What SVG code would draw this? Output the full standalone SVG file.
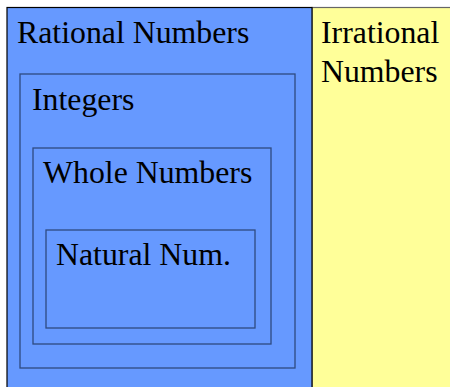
<svg xmlns="http://www.w3.org/2000/svg" width="450" height="387" viewBox="0 0 450 387">
<style>
text{font-family:'Liberation Serif',serif;font-size:31.8px;fill:#000}
.inner{fill:#6699FF;stroke:#2F4A80;stroke-width:1.3}
</style>
<rect x="0" y="0" width="450" height="387" fill="#fff"/>
<g id="irrational">
<rect x="312" y="7.5" width="139" height="381" fill="#FFFF99" stroke="#666" stroke-width="1.2"/>
<text x="321" y="43">Irrational</text>
<text x="321" y="82">Numbers</text>
</g>
<g id="rational">
<rect x="7" y="7.5" width="305" height="381" fill="#6699FF" stroke="#000" stroke-width="1.2"/>
<text x="17" y="43">Rational Numbers</text>
</g>
<g id="integers">
<rect class="inner" x="20" y="74" width="275" height="294"/>
<text x="32" y="110">Integers</text>
</g>
<g id="whole">
<rect class="inner" x="33" y="148" width="238" height="196"/>
<text x="43" y="183">Whole Numbers</text>
</g>
<g id="natural">
<rect class="inner" x="46" y="230" width="209" height="98"/>
<text x="56" y="265">Natural Num.</text>
</g>
<g id="connectors"/>
</svg>
